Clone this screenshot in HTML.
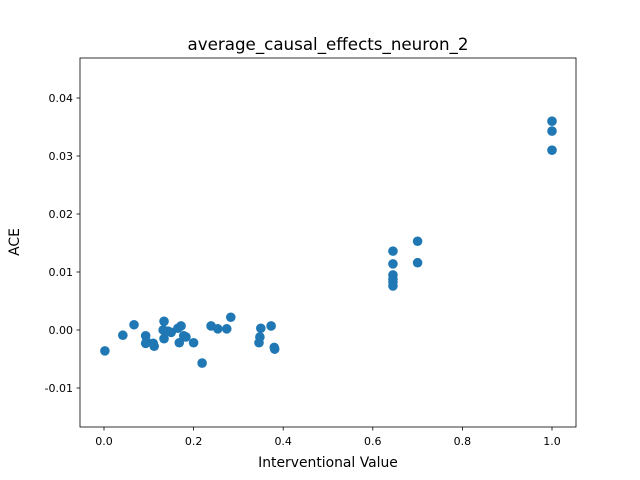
<!DOCTYPE html>
<html><head><meta charset="utf-8"><style>body{margin:0;background:#fff}svg{display:block}text{font-family:"DejaVu Sans","Liberation Sans",sans-serif;fill:#000}</style></head>
<body>
<svg id="chart" width="640" height="480">
<rect width="640" height="480" fill="#fff"/>
<text x="328" y="50" font-size="16.7" text-anchor="middle">average_causal_effects_neuron_2</text>
<g id="marks"></g>
<g id="axes"></g>
<text x="328" y="467" font-size="13.9" text-anchor="middle">Interventional Value</text>
<text transform="translate(19,242) rotate(-90)" font-size="13.9" text-anchor="middle">ACE</text>
</svg>
<script>
const xVals=[0.002,0.042,0.067,0.093,0.093,0.095,0.11,0.112,0.134,0.132,0.134,0.143,0.15,0.165,0.172,0.168,0.178,0.183,0.2,0.219,0.239,0.254,0.274,0.283,0.346,0.348,0.35,0.373,0.38,0.381,0.645,0.645,0.645,0.645,0.645,0.645,0.7,0.7,1.0,1.0,1.0];
const yVals=[-0.0036,-0.0009,0.0009,-0.001,-0.0023,-0.002,-0.0023,-0.0028,0.0015,0.0,-0.0015,-0.0002,-0.0004,0.0003,0.0007,-0.0022,-0.001,-0.0012,-0.0022,-0.0057,0.0007,0.0002,0.0002,0.0022,-0.0022,-0.0012,0.0003,0.0007,-0.003,-0.0033,0.0136,0.0114,0.0095,0.0088,0.0083,0.0076,0.0153,0.0116,0.036,0.0343,0.031];
const xTicks=[0.0,0.2,0.4,0.6,0.8,1.0];
const yTicks=[-0.01,0.0,0.01,0.02,0.03,0.04];
const L=80,R=576,T=58,B=427;
const xs=v=>104+v*448;
const ys=v=>330-v*5800;
const ns="http://www.w3.org/2000/svg";
const marks=document.getElementById('marks'),axes=document.getElementById('axes');
function mk(tag,attrs,parent){const e=document.createElementNS(ns,tag);for(const k in attrs)e.setAttribute(k,attrs[k]);parent.appendChild(e);return e;}
xVals.forEach((x,i)=>{const c=mk('circle',{cx:xs(x),cy:ys(yVals[i]),r:4.8,fill:'#1f77b4'},marks);

});
xTicks.forEach(t=>{const g=mk('g',{},axes);


mk('line',{x1:xs(t),x2:xs(t),y1:B,y2:B+3.5,stroke:'#000','stroke-width':0.8},g);
const tx=mk('text',{x:xs(t),y:B+18,'font-size':11,'text-anchor':'middle'},g);tx.textContent=t.toFixed(1);});
yTicks.forEach(t=>{const g=mk('g',{},axes);


mk('line',{x1:L-3.5,x2:L,y1:ys(t),y2:ys(t),stroke:'#000','stroke-width':0.8},g);
const tx=mk('text',{x:L-7,y:ys(t)+4,'font-size':11,'text-anchor':'end'},g);tx.textContent=t.toFixed(2);});
const fr=mk('rect',{x:L,y:T,width:R-L,height:B-T,fill:'none',stroke:'#000','stroke-width':0.8},axes);


</script>
</body></html>
